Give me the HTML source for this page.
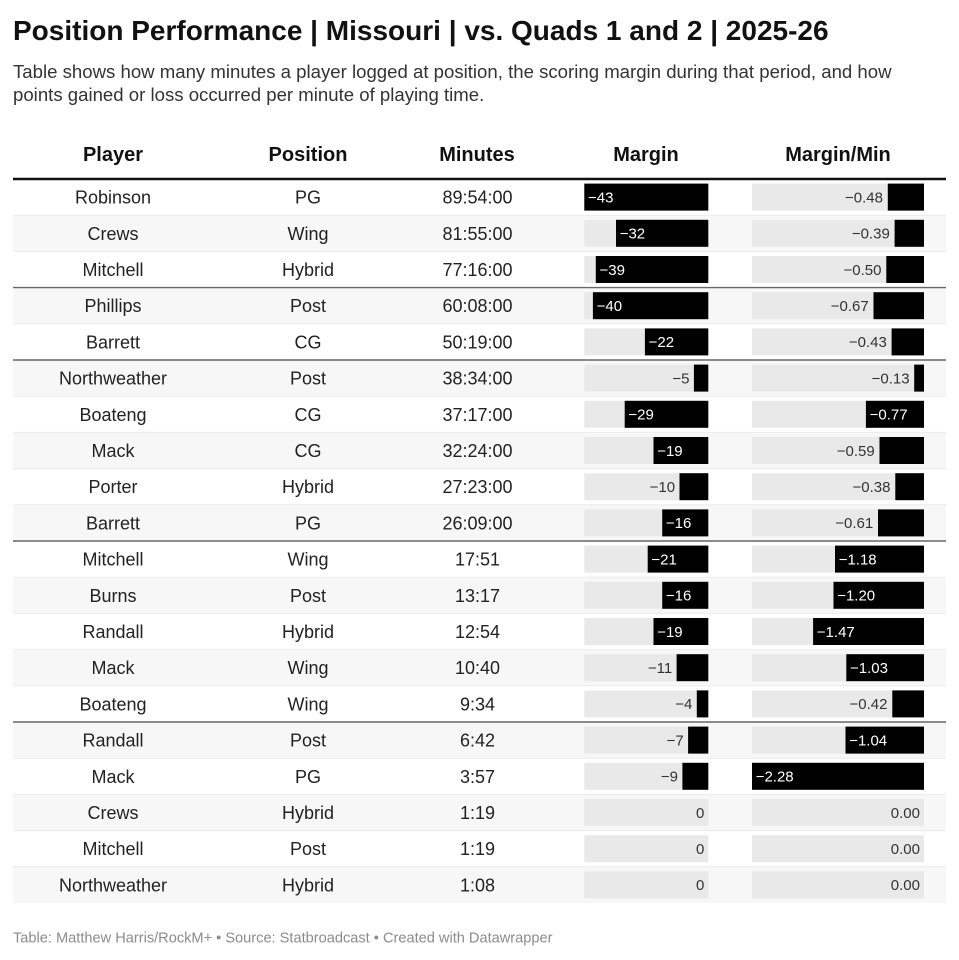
<!DOCTYPE html>
<html>
<head>
<meta charset="utf-8">
<style>
html,body{margin:0;padding:0;background:#fff;}
svg{display:block;}
text{font-family:"Liberation Sans",Arial,sans-serif;}
.b{font-size:18px;fill:#222;text-anchor:middle;}
.h{font-size:20px;font-weight:bold;fill:#111;text-anchor:middle;}
.li{font-size:15px;fill:#fff;text-anchor:start;}
.lo{font-size:15px;fill:#333;text-anchor:end;}
.bg{fill:#e9e9e9;}
.bar{fill:#000;}
.sh{fill:#f7f7f7;}
</style>
</head>
<body>
<svg width="959" height="960" viewBox="0 0 959 960" xmlns="http://www.w3.org/2000/svg">
<rect width="959" height="960" fill="#fff"/>
<text x="13" y="40" font-size="28" font-weight="bold" fill="#111">Position Performance | Missouri | vs. Quads 1 and 2 | 2025-26</text>
<text x="13" y="78" font-size="18.6" fill="#333">Table shows how many minutes a player logged at position, the scoring margin during that period, and how</text>
<text x="13" y="101" font-size="18.6" fill="#333">points gained or loss occurred per minute of playing time.</text>

<text class="h" x="113" y="161">Player</text>
<text class="h" x="308" y="161">Position</text>
<text class="h" x="477" y="161">Minutes</text>
<text class="h" x="646" y="161">Margin</text>
<text class="h" x="838" y="161">Margin/Min</text>

<!-- row shading (even rows) -->
<rect class="sh" x="13" y="215.2" width="933" height="36.2"/>
<rect class="sh" x="13" y="287.6" width="933" height="36.2"/>
<rect class="sh" x="13" y="360.0" width="933" height="36.2"/>
<rect class="sh" x="13" y="432.4" width="933" height="36.2"/>
<rect class="sh" x="13" y="504.8" width="933" height="36.2"/>
<rect class="sh" x="13" y="577.2" width="933" height="36.2"/>
<rect class="sh" x="13" y="649.6" width="933" height="36.2"/>
<rect class="sh" x="13" y="722.0" width="933" height="36.2"/>
<rect class="sh" x="13" y="794.4" width="933" height="36.2"/>
<rect class="sh" x="13" y="866.8" width="933" height="36.2"/>

<!-- thin row separators -->
<g stroke="#ebebeb" stroke-width="1">
<line x1="13" x2="946" y1="215.2" y2="215.2"/>
<line x1="13" x2="946" y1="251.4" y2="251.4"/>
<line x1="13" x2="946" y1="323.8" y2="323.8"/>
<line x1="13" x2="946" y1="396.2" y2="396.2"/>
<line x1="13" x2="946" y1="432.4" y2="432.4"/>
<line x1="13" x2="946" y1="468.6" y2="468.6"/>
<line x1="13" x2="946" y1="504.8" y2="504.8"/>
<line x1="13" x2="946" y1="577.2" y2="577.2"/>
<line x1="13" x2="946" y1="613.4" y2="613.4"/>
<line x1="13" x2="946" y1="649.6" y2="649.6"/>
<line x1="13" x2="946" y1="685.8" y2="685.8"/>
<line x1="13" x2="946" y1="758.2" y2="758.2"/>
<line x1="13" x2="946" y1="794.4" y2="794.4"/>
<line x1="13" x2="946" y1="830.6" y2="830.6"/>
<line x1="13" x2="946" y1="866.8" y2="866.8"/>
</g>
<!-- group separators -->
<g stroke="#666" stroke-width="1.4">
<line x1="13" x2="946" y1="287.6" y2="287.6"/>
<line x1="13" x2="946" y1="360.0" y2="360.0"/>
<line x1="13" x2="946" y1="541.0" y2="541.0"/>
<line x1="13" x2="946" y1="722.0" y2="722.0"/>
</g>
<!-- header line -->
<line x1="13" x2="946" y1="179" y2="179" stroke="#111" stroke-width="2.4"/>

<!-- Row 1 -->
<g transform="translate(0,179)">
<text class="b" x="113" y="24.6">Robinson</text><text class="b" x="308" y="24.6">PG</text><text class="b" x="477.5" y="24.6">89:54:00</text>
<rect class="bg" x="584.3" y="4.6" width="124" height="27"/><rect class="bar" x="584.3" y="4.6" width="124" height="27"/><text class="li" x="588" y="23.4">−43</text>
<rect class="bg" x="752" y="4.6" width="172" height="27"/><rect class="bar" x="887.8" y="4.6" width="36.2" height="27"/><text class="lo" x="883" y="23.4">−0.48</text>
</g>
<!-- Row 2 -->
<g transform="translate(0,215.2)">
<text class="b" x="113" y="24.6">Crews</text><text class="b" x="308" y="24.6">Wing</text><text class="b" x="477.5" y="24.6">81:55:00</text>
<rect class="bg" x="584.3" y="4.6" width="124" height="27"/><rect class="bar" x="616.0" y="4.6" width="92.3" height="27"/><text class="li" x="619.7" y="23.4">−32</text>
<rect class="bg" x="752" y="4.6" width="172" height="27"/><rect class="bar" x="894.6" y="4.6" width="29.4" height="27"/><text class="lo" x="889.8" y="23.4">−0.39</text>
</g>
<!-- Row 3 -->
<g transform="translate(0,251.4)">
<text class="b" x="113" y="24.6">Mitchell</text><text class="b" x="308" y="24.6">Hybrid</text><text class="b" x="477.5" y="24.6">77:16:00</text>
<rect class="bg" x="584.3" y="4.6" width="124" height="27"/><rect class="bar" x="595.8" y="4.6" width="112.5" height="27"/><text class="li" x="599.5" y="23.4">−39</text>
<rect class="bg" x="752" y="4.6" width="172" height="27"/><rect class="bar" x="886.3" y="4.6" width="37.7" height="27"/><text class="lo" x="881.5" y="23.4">−0.50</text>
</g>
<!-- Row 4 -->
<g transform="translate(0,287.6)">
<text class="b" x="113" y="24.6">Phillips</text><text class="b" x="308" y="24.6">Post</text><text class="b" x="477.5" y="24.6">60:08:00</text>
<rect class="bg" x="584.3" y="4.6" width="124" height="27"/><rect class="bar" x="592.9" y="4.6" width="115.4" height="27"/><text class="li" x="596.6" y="23.4">−40</text>
<rect class="bg" x="752" y="4.6" width="172" height="27"/><rect class="bar" x="873.5" y="4.6" width="50.5" height="27"/><text class="lo" x="868.7" y="23.4">−0.67</text>
</g>
<!-- Row 5 -->
<g transform="translate(0,323.8)">
<text class="b" x="113" y="24.6">Barrett</text><text class="b" x="308" y="24.6">CG</text><text class="b" x="477.5" y="24.6">50:19:00</text>
<rect class="bg" x="584.3" y="4.6" width="124" height="27"/><rect class="bar" x="644.9" y="4.6" width="63.4" height="27"/><text class="li" x="648.6" y="23.4">−22</text>
<rect class="bg" x="752" y="4.6" width="172" height="27"/><rect class="bar" x="891.6" y="4.6" width="32.4" height="27"/><text class="lo" x="886.8" y="23.4">−0.43</text>
</g>
<!-- Row 6 -->
<g transform="translate(0,360)">
<text class="b" x="113" y="24.6">Northweather</text><text class="b" x="308" y="24.6">Post</text><text class="b" x="477.5" y="24.6">38:34:00</text>
<rect class="bg" x="584.3" y="4.6" width="124" height="27"/><rect class="bar" x="693.9" y="4.6" width="14.4" height="27"/><text class="lo" x="689.5" y="23.4">−5</text>
<rect class="bg" x="752" y="4.6" width="172" height="27"/><rect class="bar" x="914.2" y="4.6" width="9.8" height="27"/><text class="lo" x="909.6" y="23.4">−0.13</text>
</g>
<!-- Row 7 -->
<g transform="translate(0,396.2)">
<text class="b" x="113" y="24.6">Boateng</text><text class="b" x="308" y="24.6">CG</text><text class="b" x="477.5" y="24.6">37:17:00</text>
<rect class="bg" x="584.3" y="4.6" width="124" height="27"/><rect class="bar" x="624.7" y="4.6" width="83.6" height="27"/><text class="li" x="628.4" y="23.4">−29</text>
<rect class="bg" x="752" y="4.6" width="172" height="27"/><rect class="bar" x="865.9" y="4.6" width="58.1" height="27"/><text class="li" x="869.6" y="23.4">−0.77</text>
</g>
<!-- Row 8 -->
<g transform="translate(0,432.4)">
<text class="b" x="113" y="24.6">Mack</text><text class="b" x="308" y="24.6">CG</text><text class="b" x="477.5" y="24.6">32:24:00</text>
<rect class="bg" x="584.3" y="4.6" width="124" height="27"/><rect class="bar" x="653.5" y="4.6" width="54.8" height="27"/><text class="li" x="657.2" y="23.4">−19</text>
<rect class="bg" x="752" y="4.6" width="172" height="27"/><rect class="bar" x="879.5" y="4.6" width="44.5" height="27"/><text class="lo" x="874.7" y="23.4">−0.59</text>
</g>
<!-- Row 9 -->
<g transform="translate(0,468.6)">
<text class="b" x="113" y="24.6">Porter</text><text class="b" x="308" y="24.6">Hybrid</text><text class="b" x="477.5" y="24.6">27:23:00</text>
<rect class="bg" x="584.3" y="4.6" width="124" height="27"/><rect class="bar" x="679.5" y="4.6" width="28.8" height="27"/><text class="lo" x="675.1" y="23.4">−10</text>
<rect class="bg" x="752" y="4.6" width="172" height="27"/><rect class="bar" x="895.3" y="4.6" width="28.7" height="27"/><text class="lo" x="890.5" y="23.4">−0.38</text>
</g>
<!-- Row 10 -->
<g transform="translate(0,504.8)">
<text class="b" x="113" y="24.6">Barrett</text><text class="b" x="308" y="24.6">PG</text><text class="b" x="477.5" y="24.6">26:09:00</text>
<rect class="bg" x="584.3" y="4.6" width="124" height="27"/><rect class="bar" x="662.2" y="4.6" width="46.1" height="27"/><text class="li" x="665.9" y="23.4">−16</text>
<rect class="bg" x="752" y="4.6" width="172" height="27"/><rect class="bar" x="878.0" y="4.6" width="46" height="27"/><text class="lo" x="873.2" y="23.4">−0.61</text>
</g>
<!-- Row 11 -->
<g transform="translate(0,541)">
<text class="b" x="113" y="24.6">Mitchell</text><text class="b" x="308" y="24.6">Wing</text><text class="b" x="477.5" y="24.6">17:51</text>
<rect class="bg" x="584.3" y="4.6" width="124" height="27"/><rect class="bar" x="647.7" y="4.6" width="60.6" height="27"/><text class="li" x="651.4" y="23.4">−21</text>
<rect class="bg" x="752" y="4.6" width="172" height="27"/><rect class="bar" x="835.0" y="4.6" width="89" height="27"/><text class="li" x="838.7" y="23.4">−1.18</text>
</g>
<!-- Row 12 -->
<g transform="translate(0,577.2)">
<text class="b" x="113" y="24.6">Burns</text><text class="b" x="308" y="24.6">Post</text><text class="b" x="477.5" y="24.6">13:17</text>
<rect class="bg" x="584.3" y="4.6" width="124" height="27"/><rect class="bar" x="662.2" y="4.6" width="46.1" height="27"/><text class="li" x="665.9" y="23.4">−16</text>
<rect class="bg" x="752" y="4.6" width="172" height="27"/><rect class="bar" x="833.5" y="4.6" width="90.5" height="27"/><text class="li" x="837.2" y="23.4">−1.20</text>
</g>
<!-- Row 13 -->
<g transform="translate(0,613.4)">
<text class="b" x="113" y="24.6">Randall</text><text class="b" x="308" y="24.6">Hybrid</text><text class="b" x="477.5" y="24.6">12:54</text>
<rect class="bg" x="584.3" y="4.6" width="124" height="27"/><rect class="bar" x="653.5" y="4.6" width="54.8" height="27"/><text class="li" x="657.2" y="23.4">−19</text>
<rect class="bg" x="752" y="4.6" width="172" height="27"/><rect class="bar" x="813.1" y="4.6" width="110.9" height="27"/><text class="li" x="816.8" y="23.4">−1.47</text>
</g>
<!-- Row 14 -->
<g transform="translate(0,649.6)">
<text class="b" x="113" y="24.6">Mack</text><text class="b" x="308" y="24.6">Wing</text><text class="b" x="477.5" y="24.6">10:40</text>
<rect class="bg" x="584.3" y="4.6" width="124" height="27"/><rect class="bar" x="676.6" y="4.6" width="31.7" height="27"/><text class="lo" x="672.2" y="23.4">−11</text>
<rect class="bg" x="752" y="4.6" width="172" height="27"/><rect class="bar" x="846.3" y="4.6" width="77.7" height="27"/><text class="li" x="850" y="23.4">−1.03</text>
</g>
<!-- Row 15 -->
<g transform="translate(0,685.8)">
<text class="b" x="113" y="24.6">Boateng</text><text class="b" x="308" y="24.6">Wing</text><text class="b" x="477.5" y="24.6">9:34</text>
<rect class="bg" x="584.3" y="4.6" width="124" height="27"/><rect class="bar" x="696.8" y="4.6" width="11.5" height="27"/><text class="lo" x="692.4" y="23.4">−4</text>
<rect class="bg" x="752" y="4.6" width="172" height="27"/><rect class="bar" x="892.3" y="4.6" width="31.7" height="27"/><text class="lo" x="887.5" y="23.4">−0.42</text>
</g>
<!-- Row 16 -->
<g transform="translate(0,722)">
<text class="b" x="113" y="24.6">Randall</text><text class="b" x="308" y="24.6">Post</text><text class="b" x="477.5" y="24.6">6:42</text>
<rect class="bg" x="584.3" y="4.6" width="124" height="27"/><rect class="bar" x="688.1" y="4.6" width="20.2" height="27"/><text class="lo" x="683.7" y="23.4">−7</text>
<rect class="bg" x="752" y="4.6" width="172" height="27"/><rect class="bar" x="845.5" y="4.6" width="78.5" height="27"/><text class="li" x="849.2" y="23.4">−1.04</text>
</g>
<!-- Row 17 -->
<g transform="translate(0,758.2)">
<text class="b" x="113" y="24.6">Mack</text><text class="b" x="308" y="24.6">PG</text><text class="b" x="477.5" y="24.6">3:57</text>
<rect class="bg" x="584.3" y="4.6" width="124" height="27"/><rect class="bar" x="682.4" y="4.6" width="25.9" height="27"/><text class="lo" x="678" y="23.4">−9</text>
<rect class="bg" x="752" y="4.6" width="172" height="27"/><rect class="bar" x="752" y="4.6" width="172" height="27"/><text class="li" x="755.7" y="23.4">−2.28</text>
</g>
<!-- Row 18 -->
<g transform="translate(0,794.4)">
<text class="b" x="113" y="24.6">Crews</text><text class="b" x="308" y="24.6">Hybrid</text><text class="b" x="477.5" y="24.6">1:19</text>
<rect class="bg" x="584.3" y="4.6" width="124" height="27"/><text class="lo" x="704.3" y="23.4">0</text>
<rect class="bg" x="752" y="4.6" width="172" height="27"/><text class="lo" x="920" y="23.4">0.00</text>
</g>
<!-- Row 19 -->
<g transform="translate(0,830.6)">
<text class="b" x="113" y="24.6">Mitchell</text><text class="b" x="308" y="24.6">Post</text><text class="b" x="477.5" y="24.6">1:19</text>
<rect class="bg" x="584.3" y="4.6" width="124" height="27"/><text class="lo" x="704.3" y="23.4">0</text>
<rect class="bg" x="752" y="4.6" width="172" height="27"/><text class="lo" x="920" y="23.4">0.00</text>
</g>
<!-- Row 20 -->
<g transform="translate(0,866.8)">
<text class="b" x="113" y="24.6">Northweather</text><text class="b" x="308" y="24.6">Hybrid</text><text class="b" x="477.5" y="24.6">1:08</text>
<rect class="bg" x="584.3" y="4.6" width="124" height="27"/><text class="lo" x="704.3" y="23.4">0</text>
<rect class="bg" x="752" y="4.6" width="172" height="27"/><text class="lo" x="920" y="23.4">0.00</text>
</g>

<text x="13" y="942.7" font-size="14.6" fill="#8c8c8c">Table: Matthew Harris/RockM+ • Source: Statbroadcast • Created with Datawrapper</text>
</svg>
</body>
</html>
